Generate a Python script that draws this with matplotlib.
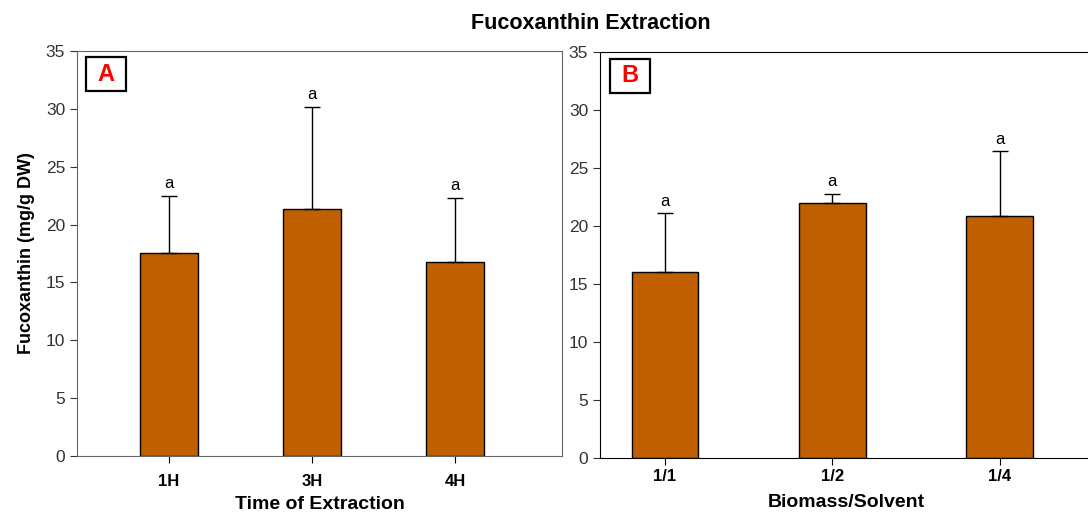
import matplotlib
matplotlib.use('Agg')
import matplotlib.pyplot as plt
import matplotlib.patches as patches
import numpy as np

plt.rcParams['font.family'] = ['Liberation Sans', 'DejaVu Sans']

# panel A: time of extraction
time_labels = ['1H', '3H', '4H']
time_means = [17.5, 21.35, 16.8]
time_err = [5.0, 8.8, 5.5]
time_letters = ['a', 'a', 'a']

# panel B: biomass/solvent ratio
ratio_labels = ['1/1', '1/2', '1/4']
ratio_means = [16.0, 22.0, 20.85]
ratio_err = [5.1, 0.8, 5.6]
ratio_letters = ['a', 'a', 'a']

bar_color = '#BF5F00'

fig = plt.figure(figsize=(10.88, 5.15), dpi=100)
axA = fig.add_axes([0.0708, 0.1146, 0.4458, 0.7864])
axB = fig.add_axes([0.5515, 0.1107, 0.452, 0.788])


def draw(ax, labels, means, errs, letters, xlim, tag, spine_col, xpad, box_x):
    x = np.arange(len(labels))
    ax.bar(x, means, width=0.4, color=bar_color, edgecolor='black', linewidth=1.0, zorder=2)
    ax.errorbar(x, means, yerr=[np.zeros(len(errs)), errs], fmt='none',
                ecolor='black', elinewidth=1.0, capsize=6, capthick=1.0, zorder=3)
    for xi, m, e, l in zip(x, means, errs, letters):
        ax.text(xi, m + e + 0.4, l, ha='center', va='bottom', fontsize=12)
    ax.set_xlim(*xlim)
    ax.set_ylim(0, 35)
    ax.set_yticks(range(0, 36, 5))
    ax.set_xticks(x)
    ax.set_xticklabels(labels, fontweight='bold', fontsize=12)
    ax.tick_params(axis='y', labelsize=12.5, direction='out', length=5, colors='#333333')
    ax.tick_params(axis='x', direction='out', length=5, pad=xpad)
    for s in ax.spines.values():
        s.set_color(spine_col)
    # panel tag in a square box
    box = patches.Rectangle((box_x, 0.9), 0.082, 0.084, transform=ax.transAxes,
                            facecolor='white', edgecolor='black', linewidth=1.6, zorder=4)
    ax.add_patch(box)
    ax.text(box_x + 0.041, 0.942, tag, transform=ax.transAxes, ha='center', va='center',
            color='red', fontsize=17, fontweight='bold', zorder=5)


draw(axA, time_labels, time_means, time_err, time_letters, (-0.643, 2.748), 'A', '#666666', 8, 0.0186)
draw(axB, ratio_labels, ratio_means, ratio_err, ratio_letters, (-0.388, 2.55), 'B', 'black', 3, 0.0205)

axA.set_ylabel('Fucoxanthin (mg/g DW)', fontweight='bold', fontsize=13, labelpad=8)
axA.set_xlabel('Time of Extraction', fontweight='bold', fontsize=14, labelpad=5)
axB.set_xlabel('Biomass/Solvent', fontweight='bold', fontsize=14, labelpad=7)

fig.suptitle('Fucoxanthin Extraction', fontweight='bold', fontsize=15.5, x=0.543, y=0.975)

fig.savefig('out.png', dpi=100)
